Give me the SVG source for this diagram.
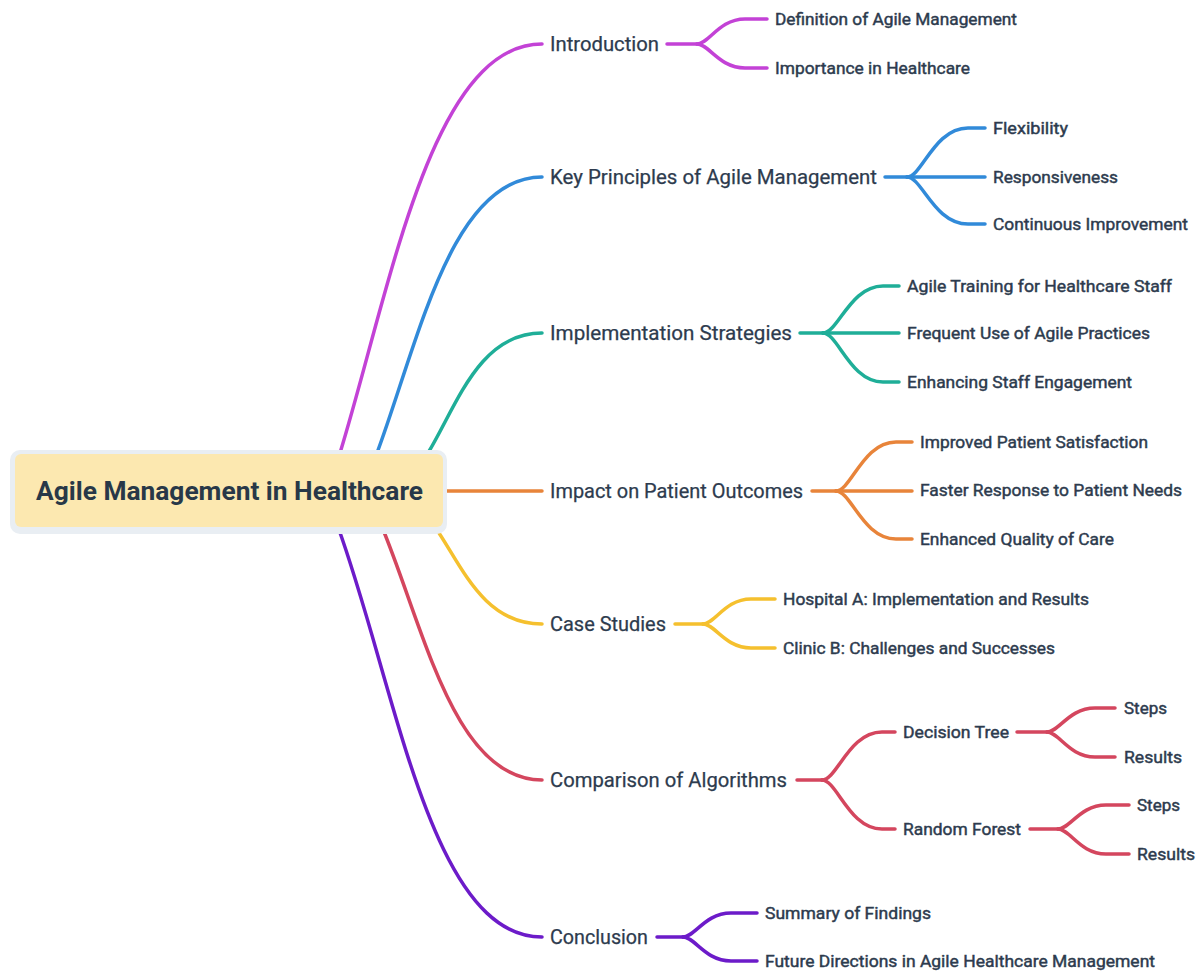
<svg xmlns="http://www.w3.org/2000/svg" width="1202" height="974" viewBox="0 0 1202 974">
  <style>
    .edge { fill: none; stroke-width: 3.5; stroke-linecap: round; stroke-linejoin: round; }
    .c1 { stroke: #c342d6; }
    .c2 { stroke: #318ad9; }
    .c3 { stroke: #1fae98; }
    .c4 { stroke: #e8843a; }
    .c5 { stroke: #f5c02e; }
    .c6 { stroke: #d4465e; }
    .c7 { stroke: #6c1bc9; }
    text { font-family: Roboto, "Liberation Sans", Arial, sans-serif; fill: #2d3b4e; }
    .root { font-size: 25px; font-weight: bold; fill: #283848; }
    .main { font-size: 20px; stroke: #2d3b4e; stroke-width: 0.25; }
    .leaf { font-size: 17px; stroke: #2d3b4e; stroke-width: 0.45; }
  </style>

  <!-- connectors -->
  <g id="connectors">
    <!-- root to main topics -->
    <path class="edge c1" d="M340,453 C390,290 431,44 542,44"/>
    <path class="edge c2" d="M377,453 C418,343 451,177 542,177"/>
    <path class="edge c3" d="M428,453 C457,405 479,333 542,333"/>
    <path class="edge c4" d="M443,491 H542"/>
    <path class="edge c5" d="M435,527 C462,566 483,624 542,624"/>
    <path class="edge c6" d="M382,527 C424,628 454,780 542,780"/>
    <path class="edge c7" d="M338,527 C396,686 430,937 542,937"/>

    <!-- Introduction -->
    <path class="edge c1" d="M667,44 H697"/>
    <path class="edge c1" d="M697,44 C709,44 719,19 745,19 H767"/>
    <path class="edge c1" d="M697,44 C709,44 719,68 745,68 H767"/>

    <!-- Key Principles -->
    <path class="edge c2" d="M885,177 H907"/>
    <path class="edge c2" d="M907,177 C922,177 934,128 968,128 H985"/>
    <path class="edge c2" d="M907,177 H985"/>
    <path class="edge c2" d="M907,177 C922,177 934,224 968,224 H985"/>

    <!-- Implementation Strategies -->
    <path class="edge c3" d="M800,333 H823"/>
    <path class="edge c3" d="M823,333 C838,333 850,286 883,286 H899"/>
    <path class="edge c3" d="M823,333 H899"/>
    <path class="edge c3" d="M823,333 C838,333 850,382 883,382 H899"/>

    <!-- Impact on Patient Outcomes -->
    <path class="edge c4" d="M812,491 H836"/>
    <path class="edge c4" d="M836,491 C851,491 863,442 896,442 H912"/>
    <path class="edge c4" d="M836,491 H912"/>
    <path class="edge c4" d="M836,491 C851,491 863,539 896,539 H912"/>

    <!-- Case Studies -->
    <path class="edge c5" d="M675,624 H703"/>
    <path class="edge c5" d="M703,624 C715,624 725,599 751,599 H775"/>
    <path class="edge c5" d="M703,624 C715,624 725,648 751,648 H775"/>

    <!-- Comparison of Algorithms -->
    <path class="edge c6" d="M797,780 H822"/>
    <path class="edge c6" d="M822,780 C837,780 849,732 882,732 H895"/>
    <path class="edge c6" d="M822,780 C837,780 849,829 882,829 H895"/>
    <path class="edge c6" d="M1017,732 H1047"/>
    <path class="edge c6" d="M1047,732 C1059,732 1069,708 1095,708 H1115"/>
    <path class="edge c6" d="M1047,732 C1059,732 1069,757 1095,757 H1115"/>
    <path class="edge c6" d="M1030,829 H1058"/>
    <path class="edge c6" d="M1058,829 C1070,829 1080,805 1106,805 H1129"/>
    <path class="edge c6" d="M1058,829 C1070,829 1080,854 1106,854 H1129"/>

    <!-- Conclusion -->
    <path class="edge c7" d="M657,937 H683"/>
    <path class="edge c7" d="M683,937 C695,937 705,913 731,913 H757"/>
    <path class="edge c7" d="M683,937 C695,937 705,961 731,961 H757"/>
  </g>

  <!-- central topic -->
  <g id="root">
    <rect x="10" y="450" width="437" height="84" rx="10" fill="#e9eef3"/>
    <rect x="15" y="454" width="428" height="73" rx="6" fill="#fce8b0"/>
    <text class="root" x="36" y="500" textLength="387" lengthAdjust="spacingAndGlyphs">Agile Management in Healthcare</text>
  </g>

  <!-- main topics -->
  <g id="introduction"><text class="main" x="550" y="51" textLength="109" lengthAdjust="spacingAndGlyphs">Introduction</text></g>
  <g id="key-principles"><text class="main" x="550" y="184" textLength="327" lengthAdjust="spacingAndGlyphs">Key Principles of Agile Management</text></g>
  <g id="implementation"><text class="main" x="550" y="340" textLength="242" lengthAdjust="spacingAndGlyphs">Implementation Strategies</text></g>
  <g id="impact"><text class="main" x="550" y="498" textLength="253" lengthAdjust="spacingAndGlyphs">Impact on Patient Outcomes</text></g>
  <g id="case-studies"><text class="main" x="550" y="631" textLength="116" lengthAdjust="spacingAndGlyphs">Case Studies</text></g>
  <g id="comparison"><text class="main" x="550" y="787" textLength="237" lengthAdjust="spacingAndGlyphs">Comparison of Algorithms</text></g>
  <g id="conclusion"><text class="main" x="550" y="944" textLength="98" lengthAdjust="spacingAndGlyphs">Conclusion</text></g>

  <!-- subtopics -->
  <g id="definition"><text class="leaf" x="775" y="25" textLength="242" lengthAdjust="spacingAndGlyphs">Definition of Agile Management</text></g>
  <g id="importance"><text class="leaf" x="775" y="74" textLength="195" lengthAdjust="spacingAndGlyphs">Importance in Healthcare</text></g>

  <g id="flexibility"><text class="leaf" x="993" y="134" textLength="75" lengthAdjust="spacingAndGlyphs">Flexibility</text></g>
  <g id="responsiveness"><text class="leaf" x="993" y="183" textLength="125" lengthAdjust="spacingAndGlyphs">Responsiveness</text></g>
  <g id="continuous-improvement"><text class="leaf" x="993" y="230" textLength="195" lengthAdjust="spacingAndGlyphs">Continuous Improvement</text></g>

  <g id="agile-training"><text class="leaf" x="907" y="292" textLength="265" lengthAdjust="spacingAndGlyphs">Agile Training for Healthcare Staff</text></g>
  <g id="frequent-use"><text class="leaf" x="907" y="339" textLength="243" lengthAdjust="spacingAndGlyphs">Frequent Use of Agile Practices</text></g>
  <g id="staff-engagement"><text class="leaf" x="907" y="388" textLength="225" lengthAdjust="spacingAndGlyphs">Enhancing Staff Engagement</text></g>

  <g id="patient-satisfaction"><text class="leaf" x="920" y="448" textLength="228" lengthAdjust="spacingAndGlyphs">Improved Patient Satisfaction</text></g>
  <g id="faster-response"><text class="leaf" x="920" y="496" textLength="262" lengthAdjust="spacingAndGlyphs">Faster Response to Patient Needs</text></g>
  <g id="quality-of-care"><text class="leaf" x="920" y="545" textLength="194" lengthAdjust="spacingAndGlyphs">Enhanced Quality of Care</text></g>

  <g id="hospital-a"><text class="leaf" x="783" y="605" textLength="306" lengthAdjust="spacingAndGlyphs">Hospital A: Implementation and Results</text></g>
  <g id="clinic-b"><text class="leaf" x="783" y="654" textLength="272" lengthAdjust="spacingAndGlyphs">Clinic B: Challenges and Successes</text></g>

  <g id="decision-tree"><text class="leaf" x="903" y="738" textLength="106" lengthAdjust="spacingAndGlyphs">Decision Tree</text></g>
  <g id="dt-steps"><text class="leaf" x="1124" y="714" textLength="43" lengthAdjust="spacingAndGlyphs">Steps</text></g>
  <g id="dt-results"><text class="leaf" x="1124" y="763" textLength="58" lengthAdjust="spacingAndGlyphs">Results</text></g>
  <g id="random-forest"><text class="leaf" x="903" y="835" textLength="118" lengthAdjust="spacingAndGlyphs">Random Forest</text></g>
  <g id="rf-steps"><text class="leaf" x="1137" y="811" textLength="43" lengthAdjust="spacingAndGlyphs">Steps</text></g>
  <g id="rf-results"><text class="leaf" x="1137" y="860" textLength="58" lengthAdjust="spacingAndGlyphs">Results</text></g>

  <g id="summary"><text class="leaf" x="765" y="919" textLength="166" lengthAdjust="spacingAndGlyphs">Summary of Findings</text></g>
  <g id="future-directions"><text class="leaf" x="765" y="967" textLength="390" lengthAdjust="spacingAndGlyphs">Future Directions in Agile Healthcare Management</text></g>
</svg>
